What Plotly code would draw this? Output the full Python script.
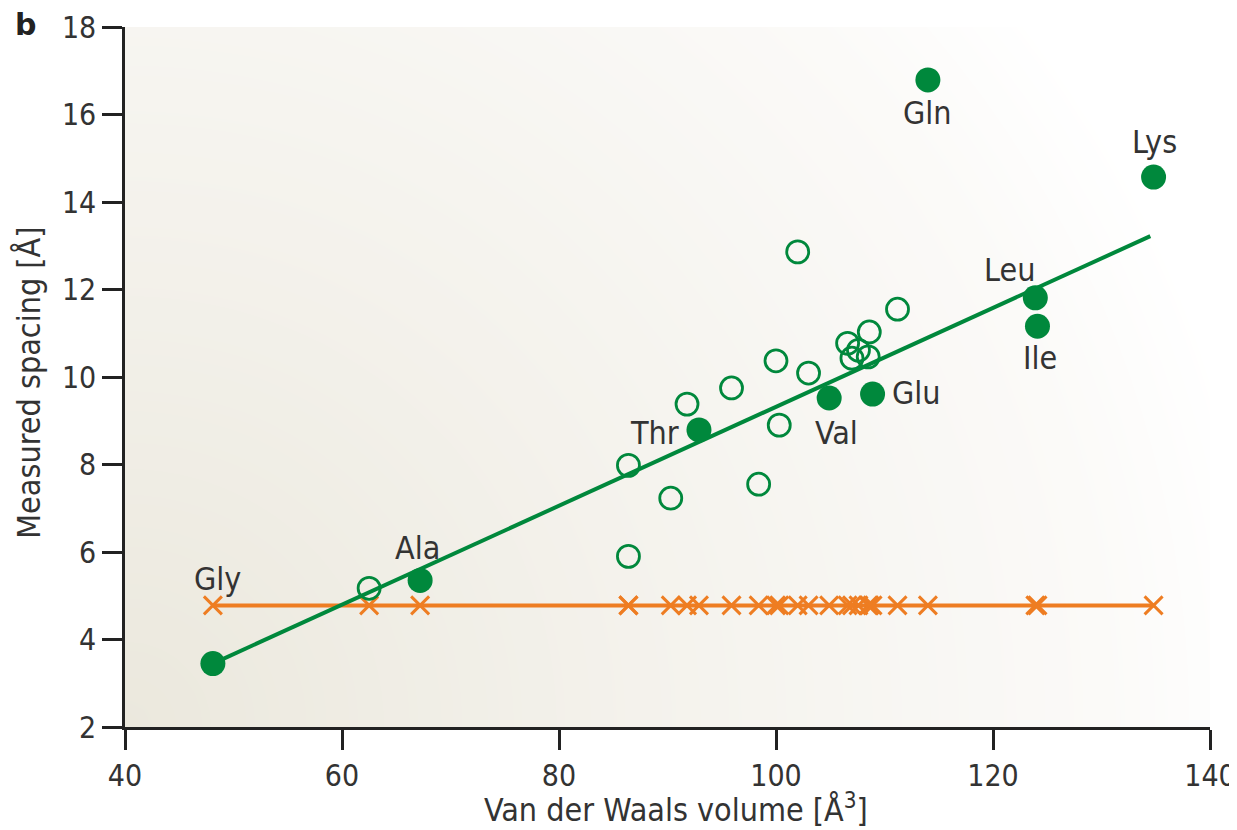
import numpy as np
import plotly.graph_objects as go

# ---- data ----
labelled_names = ["Gly", "Ala", "Thr", "Val", "Glu", "Leu", "Ile", "Gln", "Lys"]
labelled_volume = [48.1, 67.2, 92.9, 104.9, 108.9, 123.9, 124.1, 114.0, 134.8]
labelled_spacing = [3.45, 5.35, 8.79, 9.52, 9.61, 11.81, 11.16, 16.79, 14.57]

open_volume = [62.5, 86.4, 86.4, 90.3, 91.8, 95.9, 98.4, 100.0, 100.3, 102.0,
               103.0, 106.6, 107.0, 107.6, 108.5, 108.6, 111.2]
open_spacing = [5.17, 5.90, 7.98, 7.23, 9.38, 9.75, 7.55, 10.37, 8.90, 12.86,
                10.09, 10.77, 10.43, 10.61, 10.46, 11.03, 11.55]

constant_spacing = 4.78          # orange series (same for every residue)
fit_volume = [48.1, 134.5]       # ends of the green fit line
fit_spacing = [3.45, 13.22]

x_ticks = [40, 60, 80, 100, 120, 140]
y_ticks = [2, 4, 6, 8, 10, 12, 14, 16, 18]

# ---- styles ----
GREEN = "#00883C"
ORANGE = "#EE7D22"
TEXT = "#333333"
FONT = "DejaVu Sans Condensed, Liberation Sans Narrow, sans-serif"

# label offsets in pixels (dx, dy; dy positive = up)
label_shift = {
    "Gly": (5, 85), "Ala": (-3, 32), "Thr": (-44, -3), "Val": (7, -35),
    "Glu": (44, 1), "Leu": (-26, 28), "Ile": (3, -32), "Gln": (0, -33),
    "Lys": (1, 35),
}

fig = go.Figure()

# background radial shading (decoration, from bottom-left corner)
gx = np.linspace(40, 140, 61)
gy = np.linspace(2, 18, 41)
GX, GY = np.meshgrid(gx, gy)
r = np.sqrt(((GX - 40) * 10.85) ** 2 + ((GY - 2) * 43.7) ** 2) / 1150.0
r = np.clip(r, 0, 1)
fig.add_trace(go.Heatmap(
    x=gx, y=gy, z=r, zmin=0, zmax=1, zsmooth="best", showscale=False,
    hoverinfo="skip",
    colorscale=[[0, "#EBE8DD"], [0.45, "#F4F2EC"], [0.85, "#FBFAF8"], [1, "#FFFFFF"]],
))

# orange constant-spacing series
all_volume = sorted(labelled_volume + open_volume)
fig.add_trace(go.Scatter(
    x=all_volume, y=[constant_spacing] * len(all_volume), mode="lines+markers",
    line=dict(color=ORANGE, width=4),
    marker=dict(symbol="x-thin", size=18, line=dict(color=ORANGE, width=3)),
    hoverinfo="skip",
))

# green fit line
fig.add_trace(go.Scatter(
    x=fit_volume, y=fit_spacing, mode="lines",
    line=dict(color=GREEN, width=4), hoverinfo="skip",
))

# open circles
fig.add_trace(go.Scatter(
    x=open_volume, y=open_spacing, mode="markers",
    marker=dict(symbol="circle-open", size=22, color=GREEN, line=dict(width=2.8, color=GREEN)),
))

# filled labelled circles
fig.add_trace(go.Scatter(
    x=labelled_volume, y=labelled_spacing, mode="markers",
    marker=dict(symbol="circle", size=25, color=GREEN, line=dict(width=0)),
))

for name, xv, yv in zip(labelled_names, labelled_volume, labelled_spacing):
    dx, dy = label_shift[name]
    fig.add_annotation(x=xv, y=yv, text=name, showarrow=False,
                       xshift=dx, yshift=dy,
                       font=dict(family=FONT, size=32, color=TEXT))

fig.add_annotation(xref="paper", yref="paper", x=-0.103, y=1.003, text="<b>b</b>",
                   showarrow=False, xanchor="left", yanchor="middle",
                   font=dict(family="DejaVu Sans, sans-serif", size=30, color="#222222"))

# axis titles
fig.add_annotation(xref="paper", yref="paper", x=0.508, y=-0.116,
                   text="Van der Waals volume [Å<sup>3</sup>]", showarrow=False,
                   xanchor="center", yanchor="middle",
                   font=dict(family=FONT, size=32, color=TEXT))
fig.add_annotation(xref="paper", yref="paper", x=-0.088, y=0.491,
                   text="Measured spacing [Å]", showarrow=False, textangle=-90,
                   xanchor="center", yanchor="middle",
                   font=dict(family=FONT, size=32, color=TEXT))

axis_common = dict(
    showline=True, linecolor="#222222", linewidth=2.5, mirror=False,
    ticks="outside", ticklen=20, tickwidth=2.5, tickcolor="#222222",
    showgrid=False, zeroline=False, automargin=False,
    tickfont=dict(family=FONT, size=30, color=TEXT),
)

# the page body adds an 8px offset, so the figure is sized/margined to compensate
fig.update_layout(
    width=1229, height=822,
    margin=dict(l=117, r=27, t=19, b=103),
    paper_bgcolor="white", plot_bgcolor="white",
    showlegend=False,
    xaxis=dict(range=[40, 140], tickvals=x_ticks, **axis_common),
    yaxis=dict(range=[2, 18], tickvals=y_ticks, **axis_common),
)

fig.write_html("out.html")
